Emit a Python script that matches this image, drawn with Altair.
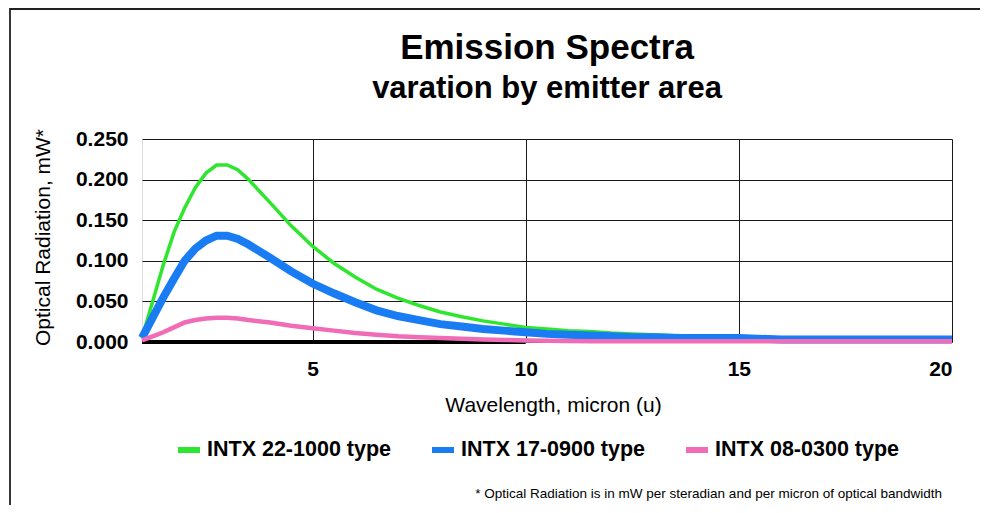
import altair as alt
import pandas as pd

# ---- data ----
wavelength = [1.0, 1.25, 1.5, 1.75, 2.0, 2.25, 2.5, 2.75, 3.0, 3.25, 3.5, 4.0, 4.5,
              5.0, 5.5, 6.0, 6.5, 7.0, 7.5, 8.0, 8.5, 9.0, 9.5, 10.0, 10.5, 11.0,
              11.5, 12.0, 12.5, 13.0, 13.5, 14.0, 15.0, 16.0, 17.0, 18.0, 19.0, 20.0]

intx_22_1000 = [0.005, 0.050, 0.095, 0.135, 0.165, 0.190, 0.208, 0.218, 0.218, 0.212,
                0.200, 0.172, 0.143, 0.118, 0.097, 0.080, 0.065, 0.054, 0.045, 0.037,
                0.031, 0.026, 0.022, 0.018, 0.016, 0.014, 0.013, 0.011, 0.010, 0.009,
                0.008, 0.007, 0.006, 0.005, 0.004, 0.004, 0.003, 0.003]

intx_17_0900 = [0.005, 0.030, 0.055, 0.078, 0.100, 0.115, 0.125, 0.131, 0.131, 0.127,
                0.120, 0.104, 0.087, 0.072, 0.060, 0.049, 0.039, 0.032, 0.027, 0.022,
                0.019, 0.016, 0.014, 0.012, 0.010, 0.009, 0.008, 0.007, 0.006, 0.006,
                0.005, 0.005, 0.005, 0.003, 0.003, 0.003, 0.003, 0.003]

intx_08_0300 = [0.002, 0.007, 0.012, 0.018, 0.024, 0.027, 0.029, 0.030, 0.030, 0.029,
                0.027, 0.024, 0.020, 0.017, 0.014, 0.011, 0.009, 0.007, 0.006, 0.005,
                0.004, 0.003, 0.0025, 0.002, 0.0015, 0.0012, 0.001, 0.001, 0.001, 0.001,
                0.001, 0.001, 0.001, 0.001, 0.001, 0.001, 0.001, 0.001]

baseline_wl = [1.0, 2.0, 3.0, 4.0, 5.0, 6.0, 7.0, 8.0, 9.0, 10.0]
baseline_vals = [0.0, 0.0, 0.0, 0.0, 0.0, 0.0, 0.0, 0.0, 0.0, 0.0]

series_names = ["INTX 22-1000 type", "INTX 17-0900 type", "INTX 08-0300 type"]
series_colors = ["#2ee62e", "#1a7cf2", "#f06cb6"]
series_widths = [3.5, 8, 4.5]

x_ticks = [5, 10, 15, 20]
y_ticks = [0.0, 0.05, 0.10, 0.15, 0.20, 0.25]

footnote = "* Optical Radiation is in mW per steradian and per micron of optical bandwidth"

FONT = "Liberation Sans"

rows = []
for name, vals in zip(series_names, [intx_22_1000, intx_17_0900, intx_08_0300]):
    for w, v in zip(wavelength, vals):
        rows.append({"series": name, "wl": w, "val": v})
df = pd.DataFrame(rows)
df_base = pd.DataFrame({"wl": baseline_wl, "val": baseline_vals})

xscale = alt.Scale(domain=[1, 20], nice=False, zero=False)
yscale = alt.Scale(domain=[0, 0.25], nice=False)

xaxis = alt.Axis(values=x_ticks, title="Wavelength, micron (u)", format="d",
                 labelFontSize=21, labelFontWeight="bold", labelFont=FONT,
                 labelColor="black", labelPadding=16, ticks=False, domain=False,
                 titleFontSize=21, titleFontWeight="normal", titleFont=FONT,
                 titleColor="black", titleX=411, titleY=69,
                 titleBaseline="alphabetic", titleAnchor="middle",
                 grid=True, gridColor="#1a1a1a", gridWidth=1)
yaxis = alt.Axis(values=y_ticks, title="Optical Radiation, mW*", format=".3f",
                 labelFontSize=21, labelFontWeight="bold", labelFont=FONT,
                 labelColor="black", labelPadding=14, ticks=False, domain=False,
                 titleFontSize=21, titleFontWeight="normal", titleFont=FONT,
                 titleColor="black", titleX=-93, titleY=98, titleAngle=-90,
                 titleBaseline="alphabetic", titleAlign="center",
                 grid=True, gridColor="#1a1a1a", gridWidth=1)

frame_df = pd.DataFrame({"k": [0]})
frame = alt.Chart(frame_df).mark_rect(fill=None, stroke="#222", strokeWidth=1.8).encode(
    x=alt.value(-132), x2=alt.value(843), y=alt.value(-130), y2=alt.value(400)
)
frame_right = alt.Chart(frame_df).mark_rule(stroke="#888", strokeWidth=2.5).encode(
    x=alt.value(843), y=alt.value(-130), y2=alt.value(400)
)

base_line = alt.Chart(df_base).mark_line(color="black", strokeWidth=4).encode(
    x=alt.X("wl:Q", scale=xscale, axis=xaxis),
    y=alt.Y("val:Q", scale=yscale, axis=yaxis),
)

leg = alt.Legend(title=None, orient="none", legendX=33, legendY=297,
                 direction="horizontal", symbolType="stroke", symbolSize=484,
                 symbolStrokeWidth=6,
                 labelFontSize=21.5, labelFontWeight="bold", labelFont=FONT,
                 labelColor="black", labelOffset=4, columnPadding=28, padding=0,
                 labelLimit=400)

color_enc = alt.Color("series:N",
                      scale=alt.Scale(domain=series_names, range=series_colors),
                      legend=leg)

series_layers = []
for name, sw in zip(series_names, series_widths):
    series_layers.append(
        alt.Chart(df).transform_filter(alt.datum.series == name)
        .mark_line(strokeWidth=sw, strokeCap="butt")
        .encode(x=alt.X("wl:Q", scale=xscale),
                y=alt.Y("val:Q", scale=yscale),
                color=color_enc)
    )

note = alt.Chart(frame_df).mark_text(text=footnote, font=FONT, fontSize=13.5,
                                     align="right", baseline="alphabetic",
                                     color="black").encode(
    x=alt.value(800), y=alt.value(359)
)

chart = alt.layer(frame, frame_right, base_line, *series_layers, note).properties(
    width=810, height=203,
    autosize=alt.AutoSizeParams(type="none"),
    padding={"left": 134, "top": 131, "right": 28, "bottom": 163},
    title=alt.TitleParams(text="Emission Spectra", subtitle="varation by emitter area",
                          font=FONT, fontSize=35, fontWeight="bold", color="black",
                          subtitleFont=FONT, subtitleFontSize=31,
                          subtitleFontWeight="bold", subtitleColor="black",
                          subtitlePadding=8, anchor="middle", frame="group",
                          offset=-96),
).configure_view(stroke="#333", strokeWidth=1.5).configure(background="white")

chart.save("out.html", embed_options={"renderer": "svg", "actions": False})
